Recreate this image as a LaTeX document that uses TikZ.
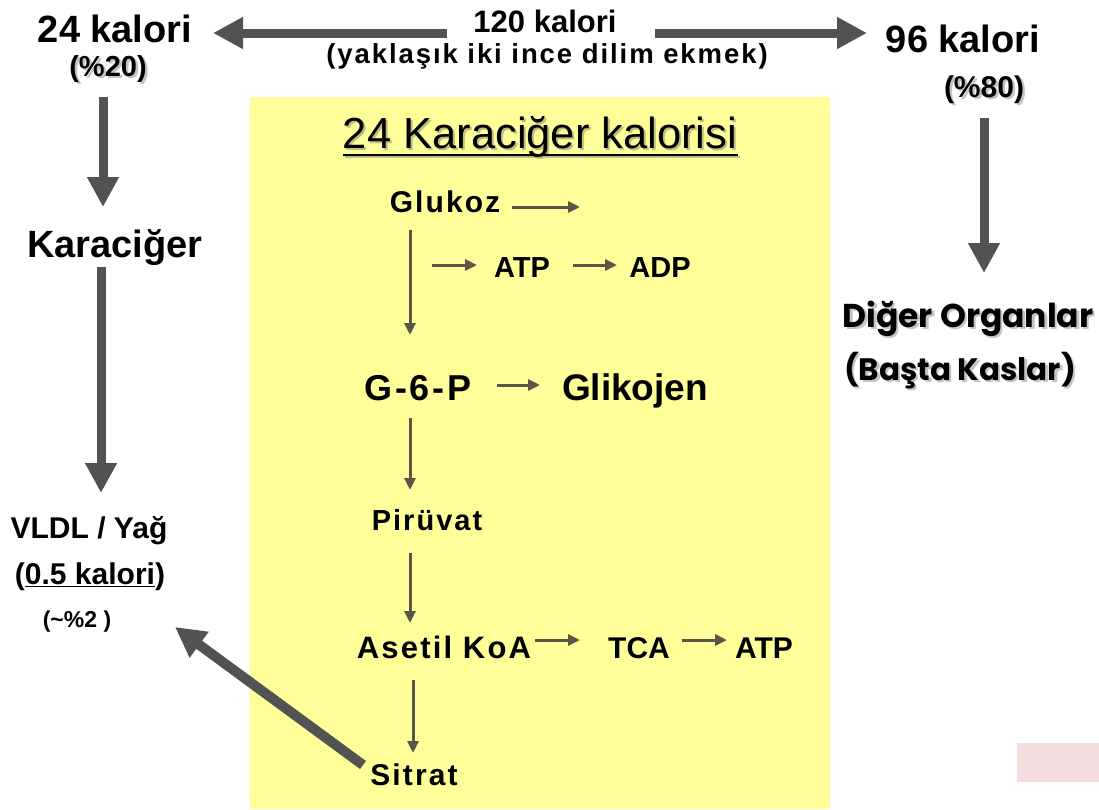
\documentclass[tikz,border=0pt]{standalone}
\usepackage{fontspec}
\setmainfont{Liberation Sans}
\newfontfamily\lsp[LetterSpace=7]{Liberation Sans}
\newfontfamily\comicf{Poppins}
\usetikzlibrary{arrows.meta}
\definecolor{bigc}{RGB}{82,82,82}
\definecolor{thinc}{RGB}{88,86,70}
\definecolor{yellowbg}{RGB}{255,255,153}
\definecolor{pinkc}{RGB}{243,221,223}
\definecolor{shadowc}{RGB}{196,196,196}
\definecolor{shadowy}{RGB}{190,190,130}
\newcommand\fsz[1]{\fontsize{#1}{#1}\selectfont}
% text with a soft drop shadow, in one box
\newcommand\shtext[3]{\makebox[0pt][l]{\hspace*{#1}\raisebox{-#1}{\textcolor{#2}{#3}}}#3}
\tikzset{
  lbl/.style={anchor=base, inner sep=0pt, text=black},
  bigarrow/.style={draw=bigc, line width=9pt, -{Triangle[width=30pt,length=30pt]}},
  thinarrow/.style={draw=thinc, line width=3pt, -{Triangle[width=11pt,length=12pt]}}
}
\begin{document}
\begin{tikzpicture}[x=1pt,y=-1pt]
\useasboundingbox (0,0) rectangle (1099,809);
\fill[white] (0,0) rectangle (1099,809);
\fill[yellowbg] (250,97) rectangle (830,809);
\fill[pinkc] (1017,743) rectangle (1099,782);

% left column
\node[lbl] (k24) at (115,42) {\fsz{38}\bfseries 24 kalori};
\node[lbl] (p20) at (108,76) {\fsz{29}\bfseries \shtext{2.5pt}{shadowc}{(\%20)}};
\node[lbl] (kar) at (115,257) {\fsz{38}\bfseries Karaciğer};
\node[lbl] (vldl) at (89,538) {\fsz{30}\bfseries VLDL / Yağ};
\node[lbl] (kal05) at (90,584) {\fsz{30}\bfseries (\underline{0.5 kalori})};
\node[lbl] (p2) at (77,627) {\fsz{23}\bfseries (\textasciitilde\%2 )};

% top centre
\node[lbl] (k120) at (545,32) {\fsz{31}\bfseries 120 kalori};
\node[lbl] (yak) at (547,63) {\fsz{27.5}\lsp\bfseries (yaklaşık iki ince dilim ekmek)};

% right column
\node[lbl] (k96) at (963,52) {\fsz{38}\bfseries 96 kalori};
\node[lbl] (p80) at (984,97) {\fsz{30}\bfseries \shtext{2.5pt}{shadowc}{(\%80)}};
\node[lbl] (diger) at (968,327) {\fsz{33}\comicf\bfseries \shtext{2.5pt}{shadowc}{Diğer Organlar}};
\node[lbl] (basta) at (960,380) {\fsz{31}\comicf\bfseries \shtext{2.5pt}{shadowc}{(Başta Kaslar)}};

% yellow panel
\draw[shadowy, line width=2pt] (345,157) -- (740,157);
\node[lbl] (title) at (540,148) {\fsz{43.5}\shtext{2pt}{shadowy}{24 Karaciğer kalorisi}};
\draw[black, line width=2pt] (343,155) -- (738,155);

\node[lbl] (gluk) at (445,212) {\fsz{30}\lsp\bfseries Glukoz};
\node[lbl] (atp1) at (522,277) {\fsz{29}\bfseries ATP};
\node[lbl] (adp) at (660,277) {\fsz{29}\bfseries ADP};
\node[lbl] (g6p) at (418,400) {\fsz{36}\lsp\bfseries G-6-P};
\node[lbl] (glik) at (635,400) {\fsz{37}\bfseries Glikojen};
\node[lbl] (piru) at (427,530) {\fsz{29}\lsp\bfseries Pirüvat};
\node[lbl] (aset) at (444,658) {\fsz{31}\lsp\bfseries Asetil KoA};
\node[lbl] (tca) at (639,658) {\fsz{30}\bfseries TCA};
\node[lbl] (atp2) at (764,658) {\fsz{30}\bfseries ATP};
\node[lbl] (sitr) at (414,785) {\fsz{30}\lsp\bfseries Sitrat};

% connector end points
\coordinate (tlA) at (447,33);  \coordinate (tlB) at (213,33);
\coordinate (trA) at (655,33);  \coordinate (trB) at (867,33);
\coordinate (l1A) at (103,97);  \coordinate (l1B) at (103,207);
\coordinate (l2A) at (101,267); \coordinate (l2B) at (101,493);
\coordinate (r1A) at (984,118); \coordinate (r1B) at (984,273);
\coordinate (dgA) at (363,765); \coordinate (dgB) at (175,627);

\coordinate (gA) at (512,207);  \coordinate (gB) at (580,207);
\coordinate (v1A) at (410,230); \coordinate (v1B) at (410,335);
\coordinate (a1A) at (432,265); \coordinate (a1B) at (477,265);
\coordinate (a2A) at (573,265); \coordinate (a2B) at (617,265);
\coordinate (gkA) at (497,385); \coordinate (gkB) at (540,385);
\coordinate (v2A) at (410,418); \coordinate (v2B) at (410,490);
\coordinate (v3A) at (410,553); \coordinate (v3B) at (410,623);
\coordinate (t1A) at (535,640); \coordinate (t1B) at (580,640);
\coordinate (t2A) at (682,640); \coordinate (t2B) at (727,640);
\coordinate (v4A) at (413,680); \coordinate (v4B) at (413,753);

% thick arrows
\draw[bigarrow] (tlA) -- (tlB);
\draw[bigarrow] (trA) -- (trB);
\draw[bigarrow] (l1A) -- (l1B);
\draw[bigarrow] (l2A) -- (l2B);
\draw[bigarrow] (r1A) -- (r1B);
\draw[bigarrow, line width=10pt] (dgA) -- (dgB);

% thin arrows
\draw[thinarrow] (gA) -- (gB);
\draw[thinarrow] (v1A) -- (v1B);
\draw[thinarrow] (a1A) -- (a1B);
\draw[thinarrow] (a2A) -- (a2B);
\draw[thinarrow] (gkA) -- (gkB);
\draw[thinarrow] (v2A) -- (v2B);
\draw[thinarrow] (v3A) -- (v3B);
\draw[thinarrow] (t1A) -- (t1B);
\draw[thinarrow] (t2A) -- (t2B);
\draw[thinarrow] (v4A) -- (v4B);
\end{tikzpicture}
\end{document}
